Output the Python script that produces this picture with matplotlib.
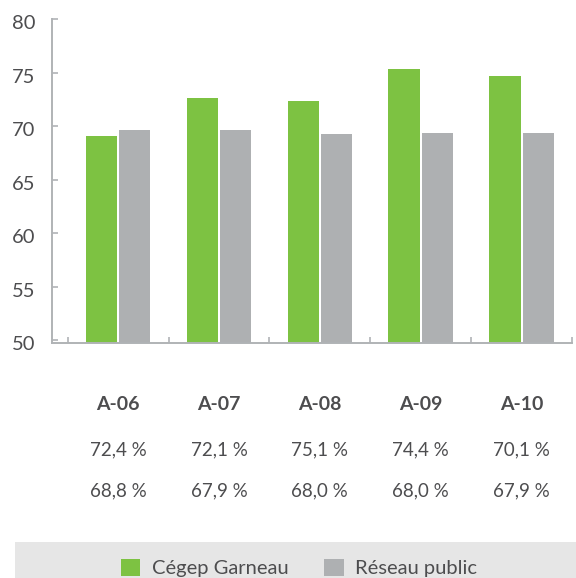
import matplotlib.pyplot as plt
import matplotlib.transforms as mtransforms
import numpy as np
from matplotlib.patches import Rectangle

plt.rcParams['font.family'] = ['Lato', 'DejaVu Sans']

annees = ["A-06", "A-07", "A-08", "A-09", "A-10"]
garneau = [69.1, 72.6, 72.3, 75.3, 74.7]
reseau = [69.6, 69.6, 69.3, 69.4, 69.4]
taux_garneau = ["72,4 %", "72,1 %", "75,1 %", "74,4 %", "70,1 %"]
taux_reseau = ["68,8 %", "67,9 %", "68,0 %", "68,0 %", "67,9 %"]

vert = "#7dc242"
gris = "#aeb0b2"
texte = "#4d4d4f"
axe = "#b0b3b6"

fig = plt.figure(figsize=(5.76, 5.78), dpi=100)
ax = fig.add_axes([52 / 576, 1 - 343 / 578, 520 / 576, 324 / 578])

x = np.arange(len(annees))
w = 0.31
b1 = ax.bar(x - 0.165, np.array(garneau) - 49.7, w, bottom=49.7, color=vert, label="Cégep Garneau")
b2 = ax.bar(x + 0.165, np.array(reseau) - 49.7, w, bottom=49.7, color=gris, label="Réseau public")

ax.set_ylim(49.75, 80)
ax.set_xlim(-0.655, 4.5)
ax.set_yticks([50, 55, 60, 65, 70, 75, 80])
ax.set_xticks(np.arange(-0.5, 5, 1))
ax.set_xticklabels([])
ax.tick_params(axis="y", direction="in", length=4, width=1.2, color=axe,
               labelsize=14.5, labelcolor=texte, pad=12)
ax.tick_params(axis="x", direction="in", length=4, width=1.2, color=axe)
for s in ["top", "right"]:
    ax.spines[s].set_visible(False)
for s in ["left", "bottom"]:
    ax.spines[s].set_color(axe)
    ax.spines[s].set_linewidth(1.4)

# les étiquettes de l'axe y sont un peu plus basses dans l'original
decal = mtransforms.ScaledTranslation(0, -3 / 100, fig.dpi_scale_trans)
for lab in ax.get_yticklabels():
    lab.set_transform(lab.get_transform() + decal)

# tableau sous le graphique, aligné sur les groupes de barres
tr = mtransforms.blended_transform_factory(ax.transData, fig.transFigure)
for xi, an, tg, trs in zip(x, annees, taux_garneau, taux_reseau):
    ax.text(xi, 1 - 404 / 578, an, transform=tr, ha="center", va="center",
            fontsize=14, fontweight="bold", color=texte)
    ax.text(xi, 1 - 450 / 578, tg, transform=tr, ha="center", va="center",
            fontsize=13.5, color=texte)
    ax.text(xi, 1 - 491 / 578, trs, transform=tr, ha="center", va="center",
            fontsize=13.5, color=texte)

# bandeau de légende
fig.patches.append(Rectangle((15 / 576, 0), 1, 36 / 578, transform=fig.transFigure,
                             facecolor="#e6e6e6", edgecolor="none", zorder=0))
fig.legend(handles=[b1, b2], loc="center", bbox_to_anchor=(299 / 576, 1 - 568 / 578),
           ncol=2, frameon=False, fontsize=14.5, labelcolor=texte,
           handlelength=0.95, handleheight=0.95, handletextpad=0.55, columnspacing=1.8)

fig.savefig("out.png", dpi=100)
